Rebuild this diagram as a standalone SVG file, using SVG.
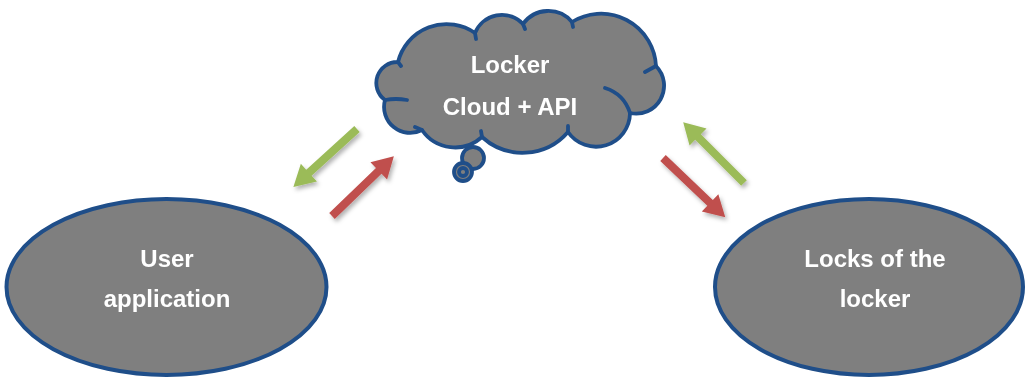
<svg xmlns="http://www.w3.org/2000/svg" width="1025" height="378" viewBox="0 0 1025 378">
  <style>
    .shape { fill: #7f7f7f; stroke: #1f4e89; stroke-width: 4; }
    .cloud { fill: #7f7f7f; stroke: #1f4e89; stroke-width: 3.8; stroke-linejoin: round; }
    .notch { fill: none; stroke: #1f4e89; stroke-width: 3.8; stroke-linecap: round; }
    .label { fill: #ffffff; font-family: "Liberation Sans", Arial, sans-serif; font-weight: bold; font-size: 24px; text-anchor: middle; }
    .green { fill: #9bbb59; }
    .red { fill: #c0504d; }
  </style>
  <defs>
    <filter id="shadow" x="-30%" y="-30%" width="160%" height="160%">
      <feDropShadow dx="2" dy="3" stdDeviation="2" flood-color="#000000" flood-opacity="0.3"/>
    </filter>
    <path id="arrow" d="M0,-4 L65,-4 L65,-12 L86,0 L65,12 L65,4 L0,4 Z"/>
  </defs>
  <rect width="1025" height="378" fill="#ffffff"/>

  <g id="connectors" filter="url(#shadow)">
    <use href="#arrow" class="green" transform="translate(357,129) rotate(137.7)"/>
    <use href="#arrow" class="red" transform="translate(332,216) rotate(-44)"/>
    <use href="#arrow" class="red" transform="translate(663,158) rotate(43.6)"/>
    <use href="#arrow" class="green" transform="translate(744,183) rotate(-135)"/>
  </g>

  <g id="cloud">
    <circle class="cloud" cx="473" cy="158" r="11"/>
    <circle class="cloud" cx="463" cy="172" r="9" stroke-width="4"/>
    <circle class="notch" cx="463" cy="172" r="4" stroke-width="3"/>
    <path class="cloud" d="M385,100 A21,21 0 0 1 398,62 A50,50 0 0 1 475,33 A29,29 0 0 1 523,24 A31,31 0 0 1 572,22 A55,55 0 0 1 656,66 A28,28 0 0 1 630,113 A34,34 0 0 1 568,132 A60,60 0 0 1 482,137 A40,40 0 0 1 422,130 A26,26 0 0 1 385,100 Z"/>
    <path class="notch" d="M385,100 Q396,98 407,100 M398,62 l3,4 M475,33 l1,6 M523,24 l2,5 M572,22 l1,5 M656,66 L645,72 M605,88 Q624,94 630,113 M568,132 l0,-6 M482,137 l-1,-6 M422,130 l-7,-3"/>
    <text class="label" x="510" y="73">Locker</text>
    <text class="label" x="510" y="115">Cloud + API</text>
  </g>

  <g id="user-application">
    <ellipse class="shape" cx="166.5" cy="287" rx="160" ry="88"/>
    <text class="label" x="167" y="267">User</text>
    <text class="label" x="167" y="307">application</text>
  </g>

  <g id="locks-of-the-locker">
    <ellipse class="shape" cx="869" cy="287" rx="154" ry="88"/>
    <text class="label" x="875" y="267">Locks of the</text>
    <text class="label" x="875" y="307">locker</text>
  </g>
</svg>
